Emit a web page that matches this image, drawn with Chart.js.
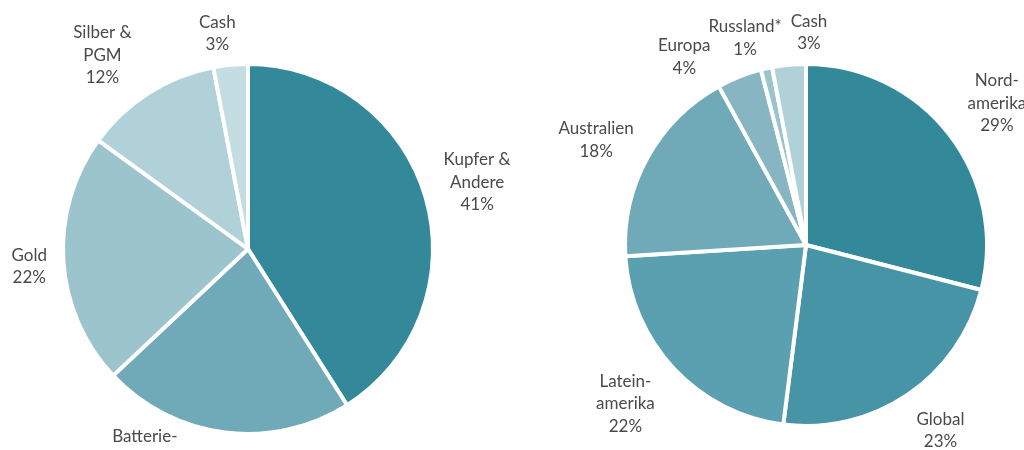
<!DOCTYPE html>
<html>
<head>
<meta charset="utf-8">
<script src="https://cdn.jsdelivr.net/npm/chart.js@4/dist/chart.umd.min.js"></script>
<style>
    html, body { margin: 0; padding: 0; background: #ffffff; }
    #wrap { position: relative; width: 1024px; height: 450px; overflow: hidden; }
    #wrap canvas { position: absolute; left: 0; top: 0; }
</style>
</head>
<body>
<div id="wrap">
    <canvas id="sector-chart" width="1024" height="450"></canvas>
    <canvas id="region-chart" width="1024" height="450"></canvas>
</div>
<script>
/// Left pie: allocation by commodity.
const SECTOR_LABELS = [["Kupfer &", "Andere"], ["Batterie-", "metalle"], ["Gold"], ["Silber &", "PGM"], ["Cash"]];
const SECTOR_VALUES = [41, 22, 22, 12, 3];
const SECTOR_COLORS = ["#338899", "#70aab9", "#9bc4cd", "#b0d1d8", "#c4dde3"];

/// Right pie: allocation by region.
const REGION_LABELS = [["Nord-", "amerika"], ["Global"], ["Latein-", "amerika"], ["Australien"], ["Europa"], ["Russland*"], ["Cash"]];
const REGION_VALUES = [29, 23, 22, 18, 4, 1, 3];
const REGION_COLORS = ["#338899", "#4794a6", "#5ba0b0", "#70aab9", "#87b5c1", "#9cc4cd", "#b0d1d8"];

const TEXT_COLOR = "#4a4a4a";
const FONT = "17px Lato, 'Open Sans', sans-serif";
const LINE_HEIGHT = 22.5;

// Draws each slice's name and percentage just outside the pie, at the slice's middle angle
// (turned a few degrees / pushed a few px where the labels would otherwise collide).
const outsideLabels = {
    id: 'outsideLabels',
    afterDatasetsDraw(chart, args, opts) {
        const ctx = chart.ctx;
        const meta = chart.getDatasetMeta(0);
        const values = chart.data.datasets[0].data;
        const nudge = opts.nudge || [];
        const shift = opts.shift || [];

        ctx.save();
        ctx.font = FONT;
        ctx.fillStyle = TEXT_COLOR;
        ctx.textAlign = 'center';
        ctx.textBaseline = 'middle';

        meta.data.forEach((arc, i) => {
            const p = arc.getProps(['x', 'y', 'startAngle', 'endAngle', 'outerRadius'], true);
            const lines = [...chart.data.labels[i], `${values[i]}%`];
            const w = Math.max(...lines.map(l => ctx.measureText(l).width));
            const h = lines.length * LINE_HEIGHT;
            const a = (p.startAngle + p.endAngle) / 2 + (nudge[i] || 0) * Math.PI / 180;
            const dx = Math.cos(a);
            const dy = Math.sin(a);
            const d = p.outerRadius + opts.gap + (shift[i] || 0)
                + Math.abs(dx) * w / 2 + Math.abs(dy) * h / 2;
            const cx = p.x + dx * d;
            const cy = p.y + dy * d;
            lines.forEach((l, k) => {
                ctx.fillText(l, cx, cy + (k - (lines.length - 1) / 2) * LINE_HEIGHT);
            });
        });
        ctx.restore();
    }
};

function make_pie(canvas_id, labels, values, colors, padding, nudge, shift) {
    return new Chart(document.getElementById(canvas_id), {
        type: 'pie',
        data: {
            labels: labels,
            datasets: [{
                data: values,
                backgroundColor: colors,
                borderColor: '#ffffff',
                borderWidth: 4,
            }],
        },
        options: {
            responsive: false,
            animation: false,
            events: [],
            layout: { padding: padding },
            plugins: {
                legend: { display: false },
                tooltip: { enabled: false },
                outsideLabels: { gap: 10, nudge: nudge, shift: shift },
            },
        },
        plugins: [outsideLabels],
    });
}

make_pie("sector-chart", SECTOR_LABELS, SECTOR_VALUES, SECTOR_COLORS,
    { left: 61, right: 589, top: 62, bottom: 14 },
    [0, 19, -1, -4.5, -2.7],
    [2, -6, 5, 3, -2]);

make_pie("region-chart", REGION_LABELS, REGION_VALUES, REGION_COLORS,
    { left: 623, right: 35, top: 62, bottom: 22 },
    [1.2, -1.7, 1.9, -2.2, -11.3, -3.8, 6.2],
    [3, 6, 5, 0, 0, -7, -1]);
</script>
</body>
</html>
